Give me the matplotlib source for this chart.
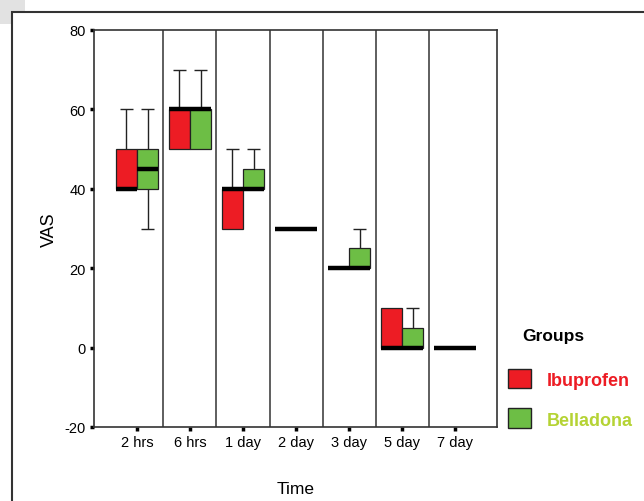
import matplotlib
matplotlib.use("Agg")
import matplotlib.pyplot as plt
from matplotlib.patches import Rectangle

plt.rcParams['font.family'] = ['Liberation Sans', 'DejaVu Sans']
plt.rcParams['axes.unicode_minus'] = False

# time points on the x axis
times = ['2 hrs', '6 hrs', '1 day', '2 day', '3 day', '5 day', '7 day']

# Ibuprofen: box (q1, median, q3) and whisker ends
ibu_q1 = [40, 50, 30, 30, 20, 0, 0]
ibu_med = [40, 60, 40, 30, 20, 0, 0]
ibu_q3 = [50, 60, 40, 30, 20, 10, 0]
ibu_lo = [40, 50, 30, 30, 20, 0, 0]
ibu_hi = [60, 70, 50, 30, 20, 10, 0]

# Belladona
bel_q1 = [40, 50, 40, 30, 20, 0, 0]
bel_med = [45, 60, 40, 30, 20, 0, 0]
bel_q3 = [50, 60, 45, 30, 25, 5, 0]
bel_lo = [30, 50, 40, 30, 20, 0, 0]
bel_hi = [60, 70, 50, 30, 30, 10, 0]

RED = '#ED1C24'
GREEN = '#6DBE45'
EDGE = '#222222'

W, H = 644, 502
fig = plt.figure(figsize=(W / 100, H / 100), dpi=100)
ax = fig.add_axes([94 / W, 1 - 428 / H, (497 - 94) / W, (428 - 31) / H])
ax.patch.set_alpha(0)


def draw_group(offset, q1, med, q3, lo, hi, color):
    box_w = 0.4
    cap_w = 0.25
    for i in range(len(times)):
        x = i + offset
        # whiskers (only where they stick out of the box)
        if hi[i] > q3[i]:
            ax.vlines(x, q3[i], hi[i], color=EDGE, lw=1, zorder=2)
            ax.hlines(hi[i], x - cap_w / 2, x + cap_w / 2, color=EDGE, lw=1, zorder=2)
        if lo[i] < q1[i]:
            ax.vlines(x, lo[i], q1[i], color=EDGE, lw=1, zorder=2)
            ax.hlines(lo[i], x - cap_w / 2, x + cap_w / 2, color=EDGE, lw=1, zorder=2)
        if q3[i] > q1[i]:
            ax.bar(x, q3[i] - q1[i], bottom=q1[i], width=box_w, color=color,
                   edgecolor=EDGE, lw=0.9, zorder=3)
        # median line
        ax.hlines(med[i], x - box_w / 2, x + box_w / 2, color='black', lw=3.2, zorder=4)


draw_group(-0.2, ibu_q1, ibu_med, ibu_q3, ibu_lo, ibu_hi, RED)
draw_group(0.2, bel_q1, bel_med, bel_q3, bel_lo, bel_hi, GREEN)

# separators between time points
for i in range(len(times) - 1):
    ax.axvline(i + 0.5, color='#333333', lw=1.1, zorder=1)

ax.set_xlim(-0.81, 6.79)
ax.set_ylim(-20, 80)
ax.set_yticks([-20, 0, 20, 40, 60, 80])
ax.set_xticks(range(len(times)))
ax.set_xticklabels(times)
ax.tick_params(axis='both', length=3, width=2.5, labelsize=10.5, colors='black', pad=3)
for sp in ax.spines.values():
    sp.set_linewidth(1.2)
    sp.set_color('#333333')

ax.set_ylabel('VAS', fontsize=13, labelpad=5)
ax.set_xlabel('Time', fontsize=12.5, labelpad=22.5)

# legend drawn in figure pixels
fig.text(522 / W, 1 - 337 / H, 'Groups', fontsize=12.5, fontweight='bold',
         va='center', ha='left')
fig.add_artist(Rectangle((508 / W, 1 - 389 / H), 23 / W, 19 / H, transform=fig.transFigure,
                         facecolor=RED, edgecolor=EDGE, lw=1))
fig.add_artist(Rectangle((508 / W, 1 - 429 / H), 23 / W, 20 / H, transform=fig.transFigure,
                         facecolor=GREEN, edgecolor=EDGE, lw=1))
fig.text(547 / W, 1 - 382 / H, 'Ibuprofen', fontsize=13, fontweight='bold',
         color=RED, va='center', ha='left')
fig.text(547 / W, 1 - 421 / H, 'Belladona', fontsize=13, fontweight='bold',
         color='#B5D334', va='center', ha='left')

# outer frame and grey corner, kept behind the axes
fig.add_artist(Rectangle((0, 1 - 25 / H), 25 / W, 25 / H, transform=fig.transFigure,
                         facecolor='#E2E2E2', edgecolor='none', zorder=-2))
fig.add_artist(Rectangle((11.5 / W, -0.05), 1.1, 1 - 12.5 / H + 0.05,
                         transform=fig.transFigure, facecolor='white',
                         edgecolor='#333333', lw=1.5, zorder=-1))

fig.savefig('out.png', dpi=100)
